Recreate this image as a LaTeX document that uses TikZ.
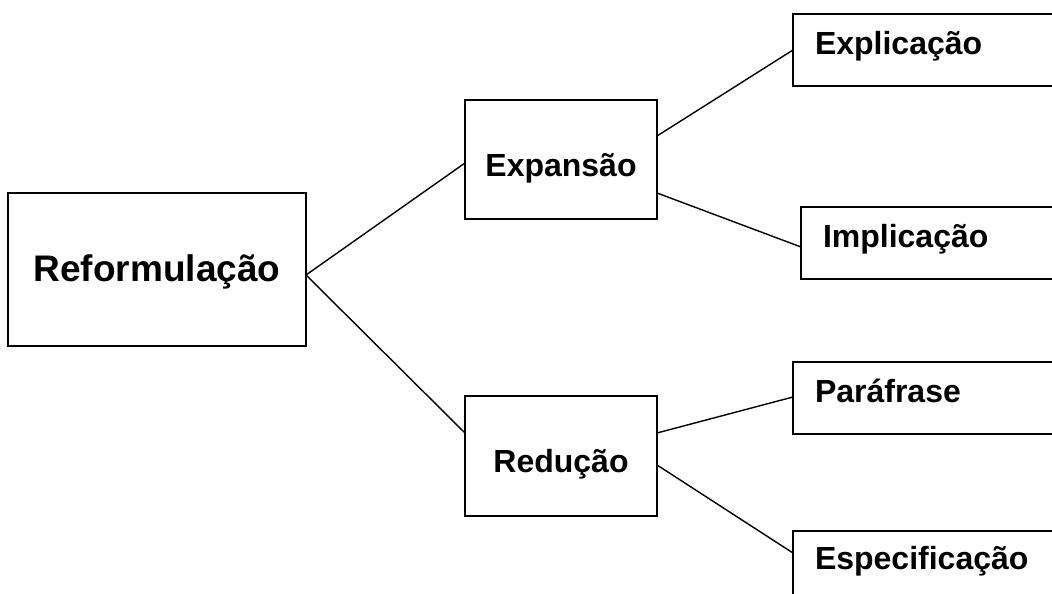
\documentclass[tikz,border=0pt]{standalone}
\usepackage{fontspec}
\setmainfont{Liberation Sans}
\begin{document}
\begin{tikzpicture}[x=1pt,y=1pt,
  box/.style={draw, line width=1.7pt, rectangle, inner ysep=0pt, inner xsep=0pt, outer sep=0pt,
    font=\bfseries\fontsize{32}{36}\selectfont},
  mid/.style={box, anchor=base, minimum width=192pt, text height=77pt},
  leaf/.style={box, anchor=base west, text width=300pt, align=left, inner xsep=22pt,
    text height=41pt, text depth=31pt},
  conn/.style={line width=1.4pt}]
\path[use as bounding box, clip] (0,0) rectangle (1052,594);
\fill[white] (0,0) rectangle (1052,594);
\node[box, anchor=base, minimum width=298pt, text height=89pt, text depth=64pt,
  font=\bfseries\fontsize{37}{40}\selectfont] (ref) at (157,312) {Reformulação};
\node[mid, text depth=42pt] (exp) at (561,417) {Expansão};
\node[mid, text depth=43pt] (red) at (561,121) {Redução};
\node[leaf] (expl) at (793,539) {Explicação};
\node[leaf] (impl) at (801,346) {Implicação};
\node[leaf] (par) at (793,191) {Paráfrase};
\node[leaf, text height=39pt] (esp) at (793,24) {Especificação};
\draw[conn] ([yshift=-5.5pt]ref.east) -- ([yshift=-3.5pt]exp.west);
\draw[conn] ([yshift=-5.5pt]ref.east) -- ([yshift=23pt]red.west);
\draw[conn] ([yshift=23.5pt]exp.east) -- ([yshift=-36pt]expl.north west);
\draw[conn] ([yshift=-33.5pt]exp.east) -- ([yshift=-40pt]impl.north west);
\draw[conn] ([yshift=23pt]red.east) -- ([yshift=-35pt]par.north west);
\draw[conn] ([yshift=-9pt]red.east) -- ([yshift=-22pt]esp.north west);
\end{tikzpicture}
\end{document}
